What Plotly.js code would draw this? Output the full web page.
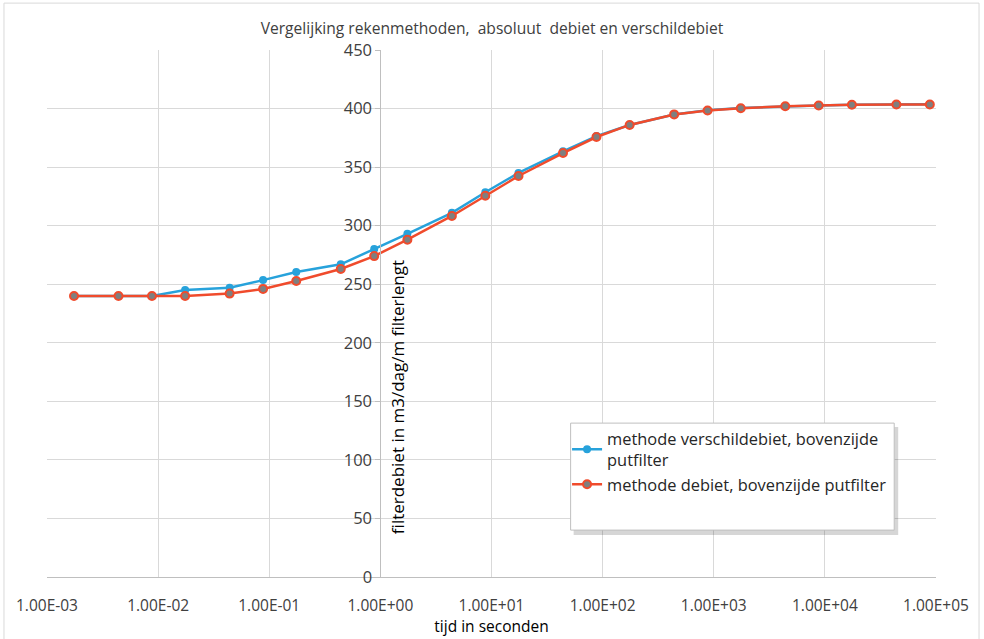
<!DOCTYPE html>
<html><head><meta charset="utf-8">
<script src="https://cdn.plot.ly/plotly-3.0.1.min.js"></script>
<style>html,body{margin:0;padding:0;background:#fff}#chart{width:984px;height:639px}</style>
</head><body><div id="chart"></div>
<script>
// time in seconds
const tijd = [1.75e-3, 4.4e-3, 8.8e-3, 1.75e-2, 4.4e-2, 8.8e-2, 0.175, 0.44, 0.88, 1.75, 4.4, 8.8, 17.5, 44, 88, 175, 440, 880, 1750, 4400, 8800, 17500, 44000, 88000];
const verschildebiet = [240, 240, 240, 245, 247, 253.5, 260.5, 267, 280, 293, 311, 328.5, 345, 363.5, 376.5, 386, 395, 398.5, 400.5, 402, 402.7, 403.3, 403.6, 403.6];
const debiet = [240, 240, 240, 240, 242, 246, 252.8, 263, 274, 288, 308.3, 325.5, 342.4, 362, 375.7, 386, 395, 398.3, 400.3, 401.9, 402.6, 403.2, 403.5, 403.5];
const tickVals = [1e-3, 1e-2, 1e-1, 1e0, 1e1, 1e2, 1e3, 1e4, 1e5];
const tickText = ["1.00E-03", "1.00E-02", "1.00E-01", "1.00E+00", "1.00E+01", "1.00E+02", "1.00E+03", "1.00E+04", "1.00E+05"];
const seriesNames = ["methode verschildebiet, bovenzijde<br>putfilter", "methode debiet, bovenzijde putfilter"];

const font = "Open Sans, Noto Sans, sans-serif";
const txt = "#404040";
const traces = [
  {x: tijd, y: verschildebiet, name: seriesNames[0], type: "scatter", mode: "lines+markers",
   line: {color: "#27a2db", width: 2.5}, marker: {color: "#27a2db", size: 8}},
  {x: tijd, y: debiet, name: seriesNames[1], type: "scatter", mode: "lines+markers",
   line: {color: "#f04b2c", width: 2.5}, marker: {color: "#7f7f7f", size: 8, line: {color: "#f04b2c", width: 2}}}
];
// legend box in paper coordinates
const lx0 = 0.589, ly1 = 0.292, lx1 = 0.953, ly0 = 0.089;
const layout = {
  width: 984, height: 639,
  margin: {l: 47, r: 48, t: 50, b: 62},
  paper_bgcolor: "#fff", plot_bgcolor: "#fff",
  font: {family: font, color: txt, size: 16},
  title: {text: "Vergelijking rekenmethoden,\u00a0 absoluut\u00a0 debiet en verschildebiet", font: {size: 15.6, color: txt, family: font}, x: 0.5, xanchor: "center", y: 0.955, yanchor: "middle"},
  xaxis: {type: "log", range: [-3, 5], tickvals: tickVals, ticktext: tickText,
    showgrid: true, gridcolor: "#d9d9d9", gridwidth: 1, zeroline: false, showline: false, ticks: "",
    tickfont: {size: 15.5, color: txt}, ticklabelstandoff: 17,
    title: {text: "tijd in seconden", font: {size: 15.5, color: "#000"}, standoff: 4}},
  yaxis: {range: [0, 450], dtick: 50, anchor: "free", position: 0.375,
    showgrid: true, gridcolor: "#d9d9d9", gridwidth: 1, zeroline: true, zerolinecolor: "#bfbfbf",
    showline: true, linecolor: "#bfbfbf", linewidth: 1, ticks: "outside", ticklen: 5, tickcolor: "#bfbfbf",
    tickfont: {size: 16.5, color: txt}, ticklabelstandoff: 0, fixedrange: true},
  showlegend: true,
  legend: {x: 0.585, y: 0.295, xanchor: "left", yanchor: "top", bgcolor: "rgba(0,0,0,0)", borderwidth: 0,
    font: {size: 16.4, color: "#262626", family: font}, itemwidth: 30, tracegroupgap: 7, traceorder: "normal"},
  annotations: [
    {text: "filterdebiet in m3/dag/m filterlengt", textangle: -90, xref: "paper", yref: "paper",
     x: 0.395, y: 0.3416, xanchor: "center", yanchor: "middle", showarrow: false, font: {size: 17, color: "#000"}}
  ],
  shapes: [
    {type: "rect", xref: "paper", yref: "paper", x0: -0.0484, x1: 1.0484, y0: -0.14, y1: 1.089, line: {color: "#d9d9d9", width: 1}, layer: "below"},
    {type: "rect", xref: "paper", yref: "paper", x0: lx0 + 3/889, x1: lx1 + 4/889, y0: ly0 - 5/527, y1: ly1 - 4/527, fillcolor: "rgba(0,0,0,0.16)", line: {width: 0}, layer: "above"},
    {type: "rect", xref: "paper", yref: "paper", x0: lx0, x1: lx1, y0: ly0, y1: ly1, fillcolor: "#fff", line: {color: "#bfbfbf", width: 1}, layer: "above"}
  ]
};
Plotly.newPlot("chart", traces, layout, {displayModeBar: false, staticPlot: true});
</script></body></html>
